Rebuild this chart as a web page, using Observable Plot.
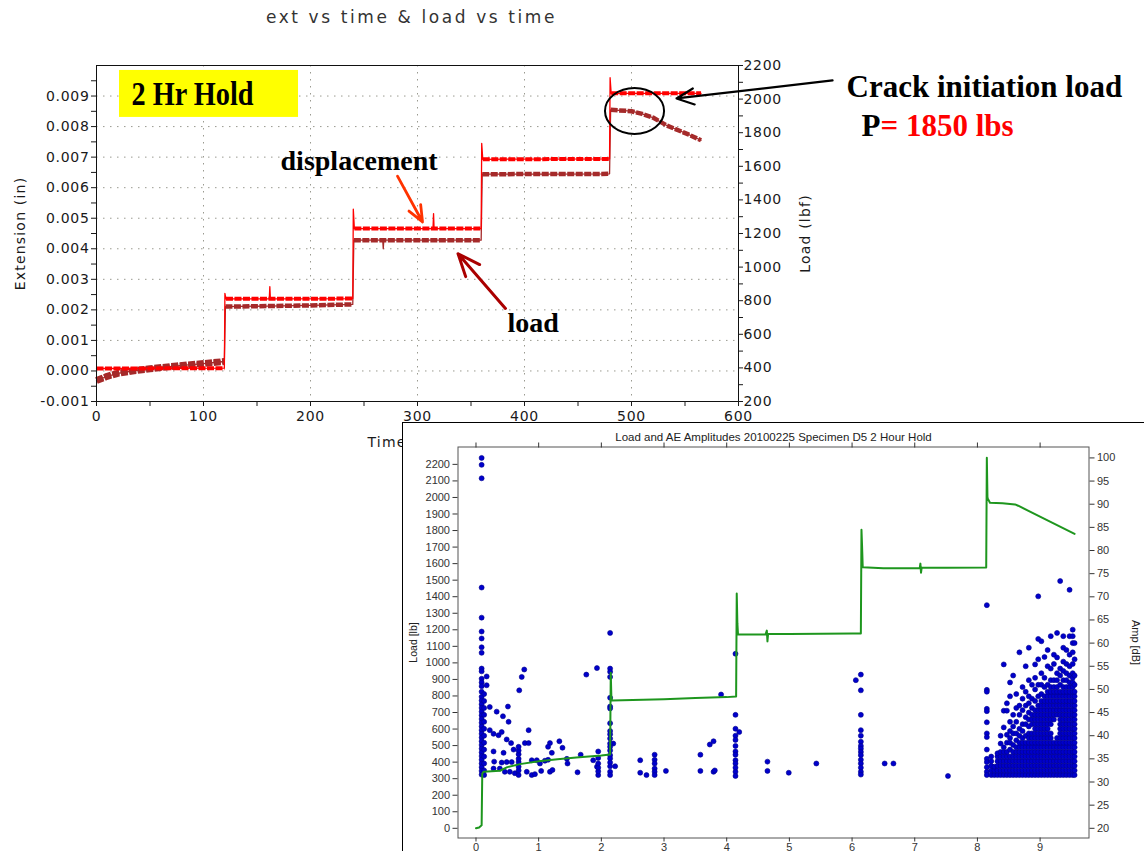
<!DOCTYPE html>
<html><head><meta charset="utf-8">
<script src="https://cdn.jsdelivr.net/npm/d3@7"></script>
<script src="https://cdn.jsdelivr.net/npm/@observablehq/plot@0.6"></script>
<style>
html,body{margin:0;padding:0;background:#fff;width:1144px;height:851px;overflow:hidden;}
#c1{position:absolute;left:0;top:0;}
#c2{position:absolute;left:402px;top:422px;width:760px;height:440px;border-left:1.5px solid #000;border-top:1.5px solid #000;background:#fff;}
#c1 svg,#c2 svg{display:block;}
#c1 g[aria-label$="tick label"] text{letter-spacing:0.7px;}
</style></head><body>
<div id="c1"></div><div id="c2"></div>
<script>
// ---------- Chart 1: ext vs time & load vs time ----------
const timeMajorTicks = [0, 100, 200, 300, 400, 500, 600];
const timeMinorTicks = [50, 150, 250, 350, 450, 550];
const timeGridTicks = [100, 200, 300, 400, 500];
const extMajorTicks = [-0.001, 0, 0.001, 0.002, 0.003, 0.004, 0.005, 0.006, 0.007, 0.008, 0.009];
const extMinorTicks = [-0.0005, 0.0005, 0.0015, 0.0025, 0.0035, 0.0045, 0.0055, 0.0065, 0.0075, 0.0085, 0.0095];
const extGridTicks = [0, 0.001, 0.002, 0.003, 0.004, 0.005, 0.006, 0.007, 0.008, 0.009];
const loadRightTicks = [200, 400, 600, 800, 1000, 1200, 1400, 1600, 1800, 2000, 2200];
const loadRightMinor = [300, 500, 700, 900, 1100, 1300, 1500, 1700, 1900, 2100];
const extDomain = [-0.001, 0.010];
const loadDomain1 = [200, 2200];
const stepStartTimes = [120, 240, 360, 480];

// displacement (extension, in) — hold levels and step spikes
const extHoldTime  = [0, 119.5, 121, 161.5, 162.5, 239.5, 241, 314.5, 315.5, 359.5, 361, 479.5, 481, 565];
const extHoldValue = [0.00008, 0.00009, 0.00236, 0.00236, 0.00236, 0.00237, 0.00466, 0.00466, 0.00466, 0.00466, 0.00693, 0.00694, 0.00909, 0.00909];
const extSpikeTime  = [120, 162, 240, 315, 360, 480];
const extSpikeValue = [0.00254, 0.00276, 0.0053, 0.00515, 0.00745, 0.0096];

// load (lbf) — right axis
const loadHoldTime  = [0, 10, 20, 35, 50, 75, 100, 119.5, 120.5, 160, 200, 239.5, 240.5, 267.5, 268.5, 359.5, 360.5, 420, 479.5, 480.5, 500, 510, 520, 533, 552, 565];
const loadHoldValue = [325, 350, 368, 383, 395, 412, 426, 438, 765, 768, 772, 778, 1160, 1160, 1160, 1160, 1553, 1554, 1555, 1936, 1928, 1912, 1890, 1843, 1793, 1755];
const loadSpikeTime  = [268];
const loadSpikeValue = [1110];

const loadToExt = L => extDomain[0] + (L - loadDomain1[0]) / (loadDomain1[1] - loadDomain1[0]) * (extDomain[1] - extDomain[0]);
const extToLoad = e => loadDomain1[0] + (e - extDomain[0]) / (extDomain[1] - extDomain[0]) * (loadDomain1[1] - loadDomain1[0]);

const extHolds = extHoldTime.map((t, i) => ({t, v: extHoldValue[i], step: d3.bisect(stepStartTimes, t)}));
const extTrace = extHolds.concat(extSpikeTime.map((t, i) => ({t, v: extSpikeValue[i]}))).sort((a, b) => a.t - b.t);
const loadHolds = loadHoldTime.map((t, i) => ({t, v: loadToExt(loadHoldValue[i]), step: d3.bisect(stepStartTimes, t)}));
const loadTrace = loadHolds.concat(loadSpikeTime.map((t, i) => ({t, v: loadToExt(loadSpikeValue[i])}))).sort((a, b) => a.t - b.t);

const serif = "Liberation Serif, Times New Roman, serif";
const grid = {stroke: "#9a9a90", strokeOpacity: 1, strokeDasharray: "1.5,5.5"};

function styleText(svg, content, attrs, styles) {
  const sel = d3.select(svg).selectAll("text").filter(function () { return this.textContent === content; });
  for (const k in (attrs || {})) sel.attr(k, attrs[k]);
  for (const k in (styles || {})) sel.style(k, styles[k]);
}

const chart1 = Plot.plot({
  width: 1144, height: 470,
  marginLeft: 96, marginRight: 406, marginTop: 65, marginBottom: 69,
  x: {domain: [0, 600]},
  y: {domain: extDomain},
  style: {fontFamily: "DejaVu Sans, Verdana, sans-serif", fontSize: "14px", color: "#1a1a1a", background: "transparent", overflow: "visible"},
  marks: [
    Plot.gridX(timeGridTicks, grid),
    Plot.gridY(extGridTicks, grid),
    Plot.rect([{a: 21.5, b: 188.8, c: 0.0083, d: 0.009838}], {x1: "a", x2: "b", y1: "c", y2: "d", fill: "#ffff00"}),
    Plot.line(loadTrace, {x: "t", y: "v", stroke: "#a52a2a", strokeWidth: 1.3}),
    Plot.line(loadHolds.filter(d => d.step === 0), {x: "t", y: "v", stroke: "#a52a2a", strokeWidth: 7, strokeDasharray: "7,1.5", strokeLinecap: "butt"}),
    Plot.line(loadHolds, {x: "t", y: "v", z: "step", stroke: "#a52a2a", strokeWidth: 4.5, strokeDasharray: "7,1.5", strokeLinecap: "butt"}),
    Plot.line(extTrace, {x: "t", y: "v", stroke: "#ff0000", strokeWidth: 1.3}),
    Plot.line(extHolds, {x: "t", y: "v", z: "step", stroke: "#ff0000", strokeWidth: 4, strokeDasharray: "7,1.5", strokeLinecap: "butt"}),
    Plot.frame({stroke: "#111"}),
    Plot.axisX(timeMajorTicks, {anchor: "bottom", tickSize: 5, tickPadding: 5, label: null}),
    Plot.axisX(timeMinorTicks, {anchor: "bottom", tickSize: 5, tickFormat: () => "", label: null}),
    Plot.axisY(extMajorTicks, {anchor: "left", tickSize: 5, tickPadding: 2, tickFormat: d => d.toFixed(3), label: null}),
    Plot.axisY(extMinorTicks, {anchor: "left", tickSize: 5, tickFormat: () => "", label: null}),
    Plot.axisY(loadRightTicks.map(loadToExt), {anchor: "right", tickSize: 4, tickPadding: 1, tickFormat: d => String(Math.round(extToLoad(d))), label: null}),
    Plot.axisY(loadRightMinor.map(loadToExt), {anchor: "right", tickSize: 4, tickFormat: () => "", label: null}),
    Plot.text(["ext vs time & load vs time"], {frameAnchor: "top", textAnchor: "middle", dy: -43, dx: -6, lineAnchor: "bottom", fontSize: 17, fill: "#333"}),
    Plot.text(["Extension (in)"], {frameAnchor: "left", textAnchor: "middle", dx: -76, rotate: -90, fontSize: 14}),
    Plot.text(["Load (lbf)"], {frameAnchor: "right", textAnchor: "middle", dx: 67, rotate: -90, fontSize: 14}),
    Plot.text(["Time (min)"], {frameAnchor: "bottom", textAnchor: "middle", dy: 45, dx: -6, fontSize: 14}),
    // annotations
    Plot.text([{t: 32.7, e: 0.008692, s: "2 Hr Hold"}], {x: "t", y: "e", text: "s", textAnchor: "start", lineAnchor: "bottom", fontFamily: serif, fontWeight: "bold", fontSize: 33, fill: "#000"}),
    Plot.text([{t: 172, e: 0.006565, s: "displacement"}], {x: "t", y: "e", text: "s", textAnchor: "start", lineAnchor: "bottom", fontFamily: serif, fontWeight: "bold", fontSize: 28, fill: "#000"}),
    Plot.text([{t: 384.1, e: 0.00126, s: "load"}], {x: "t", y: "e", text: "s", textAnchor: "start", lineAnchor: "bottom", fontFamily: serif, fontWeight: "bold", fontSize: 28, fill: "#000"}),
    Plot.text([{t: 701, e: 0.008954, s: "Crack initiation load"}], {x: "t", y: "e", text: "s", textAnchor: "start", lineAnchor: "bottom", fontFamily: serif, fontWeight: "bold", fontSize: 31, fill: "#000"}),
    Plot.text([{t: 715, e: 0.007708, s: "P"}], {x: "t", y: "e", text: "s", textAnchor: "start", lineAnchor: "bottom", fontFamily: serif, fontWeight: "bold", fontSize: 31, fill: "#000"}),
    Plot.text([{t: 732.7, e: 0.007708, s: "= 1850 lbs"}], {x: "t", y: "e", text: "s", textAnchor: "start", lineAnchor: "bottom", fontFamily: serif, fontWeight: "bold", fontSize: 31, fill: "#ff0000"}),
    Plot.arrow([{a: 687.9, b: 0.00951, c: 542.1, d: 0.008921}], {x1: "a", y1: "b", x2: "c", y2: "d", stroke: "#000", strokeWidth: 2.2, headLength: 13, headAngle: 50}),
    Plot.arrow([{a: 281.3, b: 0.006376, c: 304.7, d: 0.004878}], {x1: "a", y1: "b", x2: "c", y2: "d", stroke: "#ff3300", strokeWidth: 2.8, headLength: 12, headAngle: 45}),
    Plot.arrow([{a: 382.2, b: 0.002046, c: 337.9, d: 0.003837}], {x1: "a", y1: "b", x2: "c", y2: "d", stroke: "#aa0000", strokeWidth: 3, headLength: 13, headAngle: 45})
  ]
});
document.getElementById("c1").appendChild(chart1);
{
  const sx = chart1.scale("x"), sy = chart1.scale("y");
  const cx = sx.apply(503.3), cy = sy.apply(0.008495);
  d3.select(chart1).append("ellipse")
    .attr("cx", cx).attr("cy", cy)
    .attr("rx", sx.apply(503.3 + 27.6) - cx).attr("ry", cy - sy.apply(0.008495 + 0.000753))
    .attr("fill", "none").attr("stroke", "#000").attr("stroke-width", 2);
  styleText(chart1, "2 Hr Hold", {textLength: sx.apply(188.8) - sx.apply(32.7) - 45, lengthAdjust: "spacingAndGlyphs"});
  styleText(chart1, "ext vs time & load vs time", {}, {"letter-spacing": "2.6px"});
  styleText(chart1, "Extension (in)", {}, {"letter-spacing": "1.2px"});
  styleText(chart1, "Load (lbf)", {}, {"letter-spacing": "1.2px"});
  styleText(chart1, "Time (min)", {}, {"letter-spacing": "1.2px"});
}

// ---------- Chart 2: Load and AE Amplitudes ----------
const hourTicks = [0, 1, 2, 3, 4, 5, 6, 7, 8, 9];
const load2Ticks = [0, 100, 200, 300, 400, 500, 600, 700, 800, 900, 1000, 1100, 1200, 1300, 1400, 1500, 1600, 1700, 1800, 1900, 2000, 2100, 2200];
const ampTicks = [20, 25, 30, 35, 40, 45, 50, 55, 60, 65, 70, 75, 80, 85, 90, 95, 100];
const x2Domain = [-0.287, 9.78];
const y2Domain = [-58.6, 2305];
const ampAxisRange = [20, 100];
const ampAxisLoadEquiv = [0, 2239];
const ampToLoad = a => ampAxisLoadEquiv[0] + (a - ampAxisRange[0]) / (ampAxisRange[1] - ampAxisRange[0]) * (ampAxisLoadEquiv[1] - ampAxisLoadEquiv[0]);
const loadToAmp = L => ampAxisRange[0] + (L - ampAxisLoadEquiv[0]) / (ampAxisLoadEquiv[1] - ampAxisLoadEquiv[0]) * (ampAxisRange[1] - ampAxisRange[0]);

const greenTime = [0, 0.05, 0.09, 0.10, 0.12, 0.38, 0.5, 0.7, 1.0, 1.3, 1.6, 2.0, 2.14, 2.15, 2.16, 2.17, 2.5, 3.0, 3.5, 4.0, 4.15, 4.16, 4.17, 4.18, 4.62, 4.64, 4.65, 4.66, 5.0, 5.5, 6.0, 6.14, 6.15, 6.16, 6.17, 6.5, 7.08, 7.09, 7.1, 7.11, 7.5, 8.14, 8.15, 8.16, 8.17, 8.2, 8.4, 8.6, 8.65, 9.55];
const greenLoad = [0, 5, 18, 330, 342, 348, 370, 388, 405, 418, 428, 440, 446, 940, 790, 772, 775, 780, 787, 793, 797, 1420, 1240, 1172, 1172, 1195, 1130, 1175, 1175, 1176, 1177, 1178, 1805, 1700, 1578, 1572, 1574, 1600, 1545, 1575, 1575, 1577, 2240, 2000, 1990, 1968, 1965, 1958, 1950, 1780];

// isolated AE hits (hours, dB)
const aeTime = [0.17, 0.17, 0.22, 0.73, 0.77, 0.69, 0.51, 0.33, 0.43, 0.52, 0.22, 0.28, 0.36, 0.41, 0.84, 0.49, 0.56, 0.78, 0.84, 1.18, 1.33, 0.28, 0.44, 0.60, 1.15, 1.38, 1.21, 1.67, 0.89, 0.97, 1.02, 1.10, 1.15, 1.45, 1.46, 0.29, 0.41, 0.49, 0.57, 1.87, 1.93, 0.28, 0.38, 0.46, 0.54, 0.62, 0.81, 0.89, 0.94, 1.04, 1.18, 1.22, 1.62, 1.76, 1.93, 2.19, 2.22, 2.62, 2.62, 2.72, 3.03, 3.58, 3.58, 3.73, 3.79, 3.79, 3.81, 3.91, 4.20, 4.65, 4.65, 4.99, 5.43, 6.06, 6.52, 6.66, 7.53];
const aeAmp  = [52.8, 50.9, 46.2, 52.7, 54.3, 49.8, 46.3, 45.2, 44.2, 43.0, 41.2, 40.4, 40.1, 40.8, 41.2, 39.2, 38.4, 38.4, 38.4, 38.4, 38.8, 36.6, 36.3, 37.0, 37.6, 37.4, 36.3, 35.9, 34.7, 34.7, 34.0, 34.6, 34.8, 35.0, 34.0, 34.4, 34.2, 34.3, 34.3, 34.7, 33.3, 32.9, 32.9, 32.2, 32.2, 31.9, 32.2, 31.5, 31.7, 32.4, 32.2, 32.6, 32.1, 53.2, 54.6, 38.3, 33.4, 34.7, 32.0, 31.5, 32.4, 35.9, 32.4, 38.1, 38.8, 32.2, 32.5, 48.9, 40.8, 34.4, 32.4, 32.0, 34.0, 52.0, 34.0, 34.0, 31.3];

// stacked AE hits at load steps (hours, dB)
const stackTime = [0.09, 0.13, 0.68, 1.95, 2.14, 2.85, 4.14, 6.14, 8.15];
const stackAmps = [
  [100, 98.5, 95.6, 72, 65.5, 62.5, 61, 59.1, 57.9, 54.5, 53.9, 52.3, 51.5, 50.7, 49.5, 48.4, 47.6, 46.8, 46, 45.2, 44.4, 43.6, 42.8, 42, 41.2, 40.4, 39.6, 38.8, 38, 37.2, 36.4, 35.6, 34.8, 34, 33.2, 32.4, 31.6],
  [49, 47.5, 46, 44.5, 43, 41.5, 40, 38.5, 37, 35.5, 34, 32.5, 31.5],
  [31.5, 32.5, 33.3, 34.3, 35.0, 36.0, 36.8, 37.6],
  [31.5, 32.3, 33.1, 34.0, 35.2, 36.6],
  [62.2, 54.5, 53.8, 52.7, 48.2, 46.3, 45.9, 42.7, 41, 40.3, 39.4, 38.3, 37.6, 36.8, 35.8, 35.1, 34.2, 33.4, 32.2, 31.5],
  [35.9, 34.8, 34, 32.9, 32.2, 31.5],
  [57.7, 44.5, 41.5, 40, 39.1, 37.8, 36.6, 35.9, 34.7, 34, 33.1, 32.2, 31.3],
  [53.2, 49.8, 44.5, 41.2, 40, 38.7, 37.8, 37.2, 36.5, 35.8, 34.8, 34, 33.1, 32.2, 31.6],
  [68.2, 49.9, 49.5, 45.8, 45.3, 42.9, 40.5, 39.7, 37, 35, 34.3, 33.2, 32.2, 31.5]
];

// dense AE hits during the final hold (hours, dB)
const clusterTime = [8.22, 8.27, 8.32, 8.37, 8.42, 8.47, 8.52, 8.57, 8.62, 8.67, 8.72, 8.77, 8.82, 8.87, 8.92, 8.97, 9.02, 9.07, 9.12, 9.17, 9.22, 9.27, 9.32, 9.37, 9.42, 9.47, 9.52, 9.55];
const clusterAmps = [
  [31.5, 32.5, 33.5, 34.5, 35.5],
  [31.5, 32.5, 33.3],
  [31.5, 32.5, 33.5, 34.5, 35.5, 36.2],
  [31.5, 32.5, 33.5, 34.5, 35.5, 36.5, 38.3, 40],
  [31.5, 32.5, 33.5, 34.5, 35.5, 36.5, 37.5, 41.8, 45.4, 55.4],
  [31.5, 32.5, 33.5, 34.5, 35.5, 36.5, 38.5, 40.2, 45.4, 47],
  [31.5, 32.5, 33.5, 34.5, 35.5, 37, 38.5, 39.5, 41, 43, 48.5, 51.5],
  [31.5, 32.5, 33.5, 34.5, 35.5, 36.5, 38, 40.5, 42, 44.5, 53],
  [31.5, 32.5, 33.5, 34.5, 35.5, 36.5, 37.5, 39, 40.5, 43, 46, 49],
  [31.5, 32.5, 33.5, 34.5, 35.5, 36.5, 37.5, 38.5, 40, 41.5, 44.5, 46.5, 58],
  [31.5, 32.5, 33.5, 34.5, 35.5, 36.5, 37.5, 38.5, 39.5, 41, 42.5, 45.5, 48, 50.5],
  [31.5, 32.5, 33.5, 34.5, 35.5, 36.5, 37.5, 38.5, 40, 42.5, 44, 46.5, 49.5, 55],
  [31.5, 32.5, 33.5, 34.5, 35.5, 36.5, 37.5, 38.5, 39.5, 40.5, 42, 43.5, 45, 47, 48.5, 52, 59],
  [31.5, 32.5, 33.5, 34.5, 35.5, 36.5, 37.5, 38.5, 39.5, 40.5, 42.5, 43.5, 44.5, 46, 48, 51],
  [31.5, 32.5, 33.5, 34.5, 35.5, 36.5, 37.5, 38.5, 39.5, 40.5, 41.5, 42.5, 43.5, 44.5, 45.5, 47.5, 50, 52.5, 55.4],
  [31.5, 32.5, 33.5, 34.5, 35.5, 36.5, 37.5, 38.5, 39.5, 40.5, 41.5, 42.5, 43.5, 44.5, 45.5, 46.5, 48.5, 51, 56.5, 60.9, 70.1],
  [31.5, 32.5, 33.5, 34.5, 35.5, 36.5, 37.5, 38.5, 39.5, 40.5, 41.5, 42.5, 43.5, 44.5, 45.5, 46.5, 47.5, 49, 51, 53.5, 60.4],
  [31.5, 32.5, 33.5, 34.5, 35.5, 36.5, 37.5, 38.5, 39.5, 40.5, 41.5, 42.5, 43.5, 44.5, 45.5, 46.5, 47.5, 48.5, 50.5, 52.5, 57],
  [31.5, 32.5, 33.5, 34.5, 35.5, 36.5, 37.5, 38.5, 39.5, 40.5, 41.5, 42.5, 43.5, 44.5, 45.5, 46.5, 47.5, 48.5, 49.5, 51, 55, 58.5],
  [31.5, 32.5, 33.5, 34.5, 35.5, 36.5, 37.5, 38.5, 39.5, 40.5, 42.5, 43.5, 44.5, 45.5, 46.5, 47.5, 48.5, 49.5, 50.5, 52, 54.5, 61.5],
  [31.5, 32.5, 33.5, 34.5, 35.5, 36.5, 37.5, 38.5, 43.5, 44.5, 45.5, 46.5, 47.5, 48.5, 49.5, 50.5, 52, 55.5, 57.5],
  [31.5, 32.5, 33.5, 34.5, 35.5, 36.5, 37.5, 38.5, 39.5, 44.5, 45.5, 46.5, 47.5, 48.5, 49.5, 50.5, 52, 53.5, 56.9, 62.2],
  [31.5, 32.5, 33.5, 34.5, 35.5, 36.5, 37.5, 38.5, 39.5, 40.5, 41.5, 42.5, 43.5, 44.5, 45.5, 46.5, 47.5, 48.5, 49.5, 51, 53, 54.5, 73.4],
  [31.5, 32.5, 33.5, 34.5, 35.5, 36.5, 37.5, 38.5, 39.5, 40.5, 41.5, 42.5, 43.5, 44.5, 45.5, 46.5, 47.5, 48.5, 49.5, 50.5, 52, 54, 56, 59, 61.5],
  [31.5, 32.5, 33.5, 34.5, 35.5, 36.5, 37.5, 38.5, 39.5, 40.5, 41.5, 42.5, 43.5, 44.5, 45.5, 46.5, 47.5, 48.5, 49.5, 50.5, 52, 53.5, 55.5, 58.5],
  [31.5, 32.5, 33.5, 34.5, 35.5, 36.5, 37.5, 38.5, 39.5, 40.5, 41.5, 42.5, 43.5, 44.5, 45.5, 46.5, 47.5, 48.5, 49.5, 50.5, 51.5, 53, 55, 57.5, 61.5, 71.5],
  [31.5, 32.5, 33.5, 34.5, 35.5, 36.5, 37.5, 38.5, 39.5, 40.5, 41.5, 42.5, 43.5, 44.5, 45.5, 46.5, 47.5, 48.5, 49.5, 50.5, 51.5, 52.5, 53.5, 55.5, 58, 60, 61.5, 62.9],
  [31.5, 32.5, 33.5, 34.5, 35.5, 36.5, 37.5, 38.5, 39.5, 40.5, 41.5, 42.5, 43.5, 44.5, 45.5, 46.5, 47.5, 48.5, 49.5, 51, 53, 56.5, 60]
];

const green = greenTime.map((t, i) => ({t, L: greenLoad[i]}));
const aeHits = aeTime.map((t, i) => ({t, amp: aeAmp[i]}))
  .concat(stackTime.flatMap((t, i) => stackAmps[i].map(amp => ({t, amp}))))
  .concat(clusterTime.flatMap((t, i) => clusterAmps[i].map(amp => ({t, amp}))));

const W2 = 741, H2 = 430;
const chart2 = Plot.plot({
  width: W2, height: H2,
  marginLeft: 54.5, marginRight: W2 - 685.5, marginTop: 23.5, marginBottom: H2 - 414.5,
  x: {domain: x2Domain},
  y: {domain: y2Domain},
  style: {fontFamily: "Liberation Sans, Arial, sans-serif", fontSize: "11px", color: "#333", background: "#fff"},
  marks: [
    Plot.dot(aeHits, {x: "t", y: d => ampToLoad(d.amp), r: 2.5, fill: "#0000cc", stroke: "#00008a", strokeWidth: 0.6}),
    Plot.line(green, {x: "t", y: "L", stroke: "#1e961e", strokeWidth: 2}),
    Plot.frame({stroke: "#555"}),
    Plot.axisX(hourTicks, {anchor: "bottom", tickSize: 4, tickPadding: 1, tickFormat: d => String(d), label: null}),
    Plot.axisX(hourTicks, {anchor: "top", tickSize: 5, tickFormat: () => "", label: null}),
    Plot.axisY(load2Ticks, {anchor: "left", tickSize: 5, tickPadding: 3, tickFormat: d => String(d), label: null}),
    Plot.axisY(ampTicks.map(ampToLoad), {anchor: "right", tickSize: 5, tickPadding: 3, tickFormat: d => String(Math.round(loadToAmp(d))), label: null}),
    Plot.text(["Load and AE Amplitudes 20100225 Specimen D5 2 Hour Hold"], {frameAnchor: "top", textAnchor: "middle", dy: -14, fontSize: 11.5, fill: "#222"}),
    Plot.text(["Load [lb]"], {frameAnchor: "left", textAnchor: "middle", dx: -44.5, rotate: -90, fontSize: 10.5, fill: "#222"}),
    Plot.text(["Amp [dB]"], {frameAnchor: "right", textAnchor: "middle", dx: 46.5, rotate: 90, fontSize: 11, fill: "#222"})
  ]
});
document.getElementById("c2").appendChild(chart2);
</script></body></html>
